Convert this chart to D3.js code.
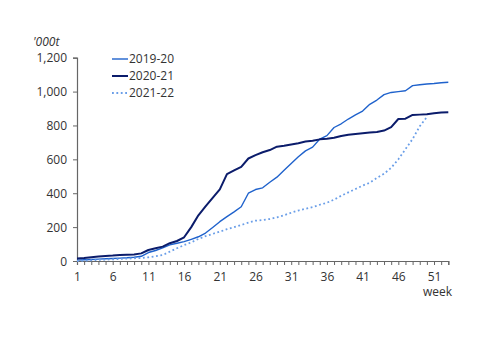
<!DOCTYPE html>
<html>
<head>
<meta charset="utf-8">
<script src="https://cdn.jsdelivr.net/npm/d3@7"></script>
<style>
  body { margin: 0; background: #fff; }
  text { font-family: "Open Sans", sans-serif; fill: #333; }
</style>
</head>
<body>
<div id="chart"></div>
<script>
let w = 500;
let h = 353;

let seriesNames = ["2019-20", "2020-21", "2021-22"];
let s2019 = [5, 7, 9, 11, 13, 15, 17, 19, 22, 28, 50, 62, 78, 95, 105, 114, 128, 143, 165, 198,
  232, 262, 290, 320, 400, 422, 432, 465, 495, 535, 575, 615, 650, 672, 720, 740, 788, 810, 838, 862,
  885, 925, 950, 982, 995, 1000, 1005, 1035, 1040, 1045, 1048, 1052, 1055];
let s2020 = [15, 18, 22, 26, 30, 32, 35, 37, 38, 45, 65, 75, 85, 105, 118, 140, 200, 270, 322, 372,
  423, 513, 535, 556, 605, 625, 642, 655, 675, 680, 688, 695, 705, 710, 718, 722, 728, 738, 745, 750,
  754, 758, 762, 770, 790, 838, 840, 862, 864, 866, 872, 876, 878];
let s2021 = [0, 2, 4, 6, 8, 10, 12, 14, 16, 18, 22, 28, 35, 55, 75, 94, 110, 130, 147, 160,
  173, 188, 200, 213, 226, 238, 242, 248, 258, 270, 285, 298, 308, 318, 332, 344, 362, 385, 405, 425,
  445, 462, 490, 515, 550, 600, 660, 720, 795, 850];
let yTicks = [0, 200, 400, 600, 800, 1000, 1200];
let xLabels = [1, 6, 11, 16, 21, 26, 31, 36, 41, 46, 51];

let colors = ["#1f62cc", "#0b1c6b", "#6a9ee8"];
let widths = [1.4, 2, 1.8];
let dashes = [null, null, "1.8,2.6"];
let allSeries = [s2019, s2020, s2021];

let svg = d3.select("#chart").append("svg").attr("width", w).attr("height", h);

let xScale = d3.scaleLinear().domain([1, 53]).range([77, 448.3]);
let yScale = d3.scaleLinear().domain([0, 1200]).range([261, 57.7]);

// y axis
let yAxis = d3.axisLeft(yScale).tickValues(yTicks).tickSize(4).tickPadding(6).tickFormat(d3.format(","));
let yg = svg.append("g").attr("transform", "translate(77,0)").call(yAxis);
yg.selectAll("text").style("font-size", "12px").attr("dy", "0.35em");

// x axis
let xAxis = d3.axisBottom(xScale).tickValues(d3.range(1, 54)).tickSize(4).tickPadding(7)
  .tickFormat(d => xLabels.includes(d) ? d : "");
let xg = svg.append("g").attr("transform", "translate(0,261)").call(xAxis);
xg.selectAll("text").style("font-size", "12px");

svg.selectAll(".domain, .tick line").attr("stroke", "#666");
svg.selectAll(".domain").attr("stroke-width", 1.2);

svg.append("text").attr("x", 33).attr("y", 46).style("font-size", "12px").style("font-style", "italic").text("'000t");
svg.append("text").attr("x", 452).attr("y", 296).attr("text-anchor", "end").style("font-size", "12px").text("week");

let line = d3.line().x((d, i) => xScale(i + 1)).y(d => yScale(d));

allSeries.forEach((s, k) => {
  svg.append("path").datum(s)
    .attr("d", line)
    .attr("fill", "none")
    .attr("stroke", colors[k])
    .attr("stroke-width", widths[k])
    .attr("stroke-dasharray", dashes[k])
    .attr("stroke-linejoin", "round");
});

// legend
let legend = svg.append("g").attr("transform", "translate(112,59)");
seriesNames.forEach((n, k) => {
  let y = k * 17;
  legend.append("line").attr("x1", 0).attr("x2", 16).attr("y1", y).attr("y2", y)
    .attr("stroke", colors[k]).attr("stroke-width", widths[k]).attr("stroke-dasharray", dashes[k]);
  legend.append("text").attr("x", 17).attr("y", y).attr("dy", "0.35em").style("font-size", "12px").text(n);
});
</script>
</body>
</html>
